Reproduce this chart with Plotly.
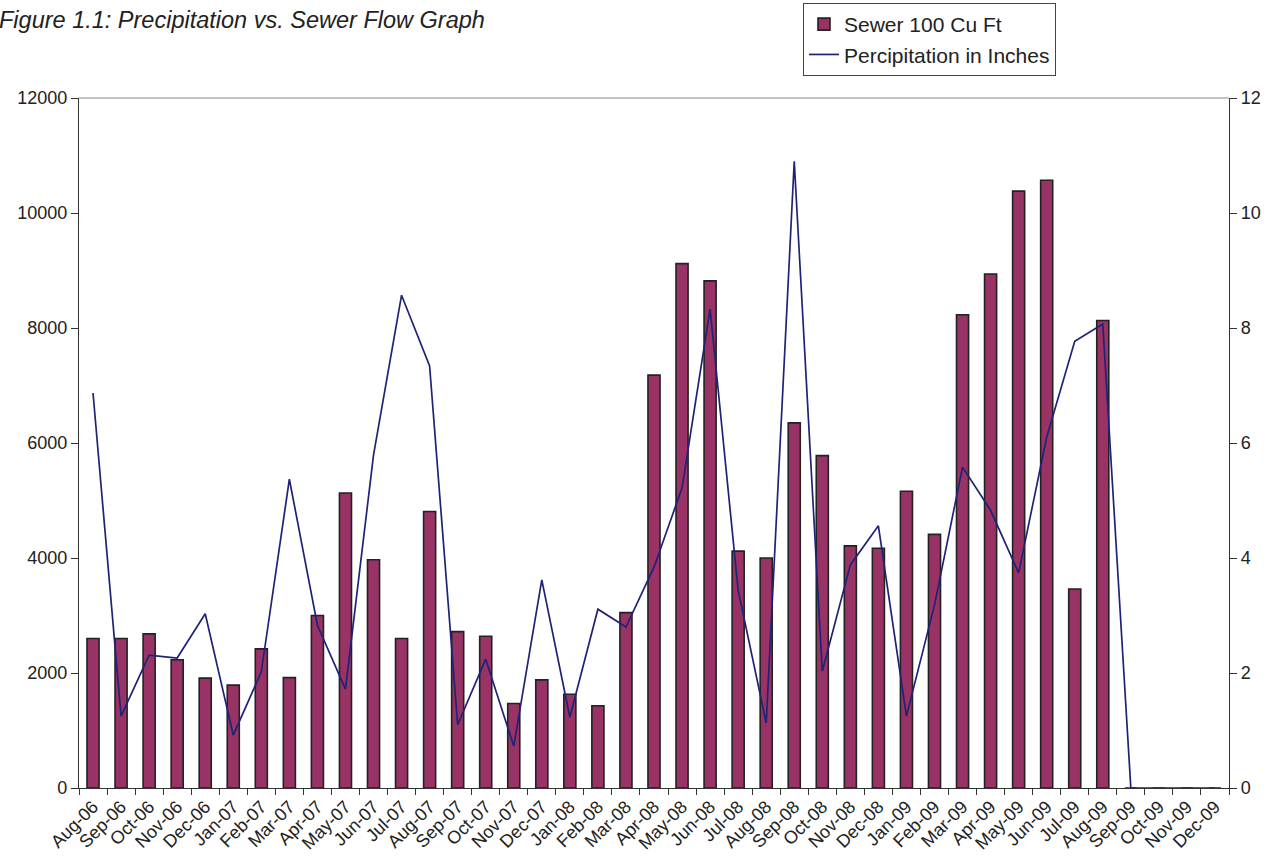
import plotly.graph_objects as go

months = ["Aug-06","Sep-06","Oct-06","Nov-06","Dec-06",
          "Jan-07","Feb-07","Mar-07","Apr-07","May-07","Jun-07","Jul-07","Aug-07","Sep-07","Oct-07","Nov-07","Dec-07",
          "Jan-08","Feb-08","Mar-08","Apr-08","May-08","Jun-08","Jul-08","Aug-08","Sep-08","Oct-08","Nov-08","Dec-08",
          "Jan-09","Feb-09","Mar-09","Apr-09","May-09","Jun-09","Jul-09","Aug-09","Sep-09","Oct-09","Nov-09","Dec-09"]

sewer = [2600, 2600, 2680, 2230, 1910,
         1790, 2420, 1920, 3000, 5130, 3970, 2600, 4810, 2720, 2640, 1470, 1880,
         1630, 1430, 3050, 7180, 9120, 8820, 4120, 4000, 6350, 5780, 4210, 4170,
         5160, 4410, 8230, 8940, 10380, 10570, 3460, 8130, 0, 0, 0, 0]

precip = [6.87, 1.25, 2.31, 2.26, 3.03,
          0.92, 2.02, 5.37, 2.83, 1.72, 5.79, 8.57, 7.34, 1.10, 2.24, 0.73, 3.62,
          1.23, 3.11, 2.80, 3.84, 5.22, 8.33, 3.44, 1.13, 10.9, 2.03, 3.88, 4.56,
          1.25, 3.18, 5.58, 4.83, 3.74, 6.10, 7.77, 8.07, 0, 0, 0, 0]

left_ticks = [0, 2000, 4000, 6000, 8000, 10000, 12000]
right_ticks = [0, 2, 4, 6, 8, 10, 12]

FONT = "Liberation Sans, Arial, sans-serif"
TXT = "#222222"

fig = go.Figure()
fig.add_trace(go.Bar(
    x=months, y=sewer, name="Sewer 100 Cu Ft",
    marker=dict(color="#993366", line=dict(color="#222222", width=1.6)),
    yaxis="y",
))
fig.add_trace(go.Scatter(
    x=months, y=precip, name="Percipitation in Inches",
    mode="lines", line=dict(color="#1f2378", width=1.7),
    yaxis="y2",
))

PL, PT, PW, PH = 79, 98, 1150, 690

fig.update_layout(
    width=1272, height=861,
    margin=dict(l=PL, r=1272 - PL - PW, t=PT, b=861 - PT - PH, autoexpand=False),
    paper_bgcolor="white", plot_bgcolor="white",
    font=dict(family=FONT, size=18, color=TXT),
    bargap=0.57,
    showlegend=True,
    legend=dict(
        x=(803 - PL) / PW, y=(PT + PH - 3) / PH, xanchor="left", yanchor="top",
        bordercolor="#444444", borderwidth=1, bgcolor="white",
        font=dict(size=21, family=FONT, color=TXT),
        tracegroupgap=0, itemwidth=30,
    ),
    xaxis=dict(
        type="category", tickangle=-45, tickson="boundaries", automargin=False,
        ticks="outside", ticklen=6, tickcolor="#333333",
        showline=True, linecolor="#333333", linewidth=1.2,
        showgrid=False, tickfont=dict(size=18, family=FONT, color=TXT),
    ),
    yaxis=dict(
        range=[0, 12000], tickvals=left_ticks, ticktext=[str(v) for v in left_ticks],
        ticks="outside", ticklen=7, tickcolor="#333333", automargin=False,
        showline=True, linecolor="#333333", linewidth=1.2,
        showgrid=False, zeroline=False,
        tickfont=dict(size=18, family=FONT, color=TXT),
    ),
    yaxis2=dict(
        range=[0, 12], tickvals=right_ticks, ticktext=[str(v) for v in right_ticks],
        overlaying="y", side="right", automargin=False,
        ticks="outside", ticklen=7, tickcolor="#333333",
        showline=True, linecolor="#333333", linewidth=1.2,
        showgrid=False, zeroline=False,
        tickfont=dict(size=18, family=FONT, color=TXT),
    ),
    shapes=[dict(type="line", xref="paper", yref="paper", x0=0, x1=1, y0=1, y1=1,
                 line=dict(color="#888888", width=1.2))],
    annotations=[dict(
        text="<i>Figure 1.1: Precipitation vs. Sewer Flow Graph</i>",
        xref="paper", yref="paper", x=(-3 - PL) / PW, y=(PT + PH - 20) / PH,
        xanchor="left", yanchor="middle", showarrow=False,
        font=dict(size=23.5, family=FONT, color=TXT),
    )],
)

fig.write_html("out.html", config={"displayModeBar": False},
               post_script="document.body.style.margin='0';")
